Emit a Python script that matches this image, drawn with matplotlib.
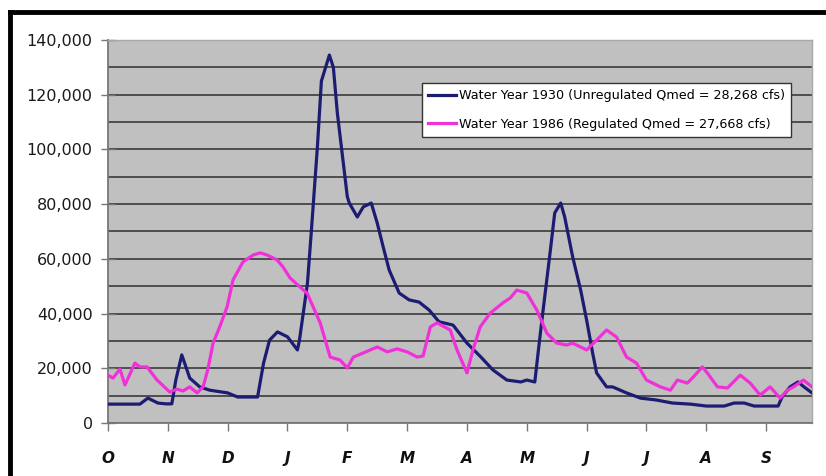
import matplotlib
matplotlib.use("Agg")
import matplotlib.pyplot as plt
from matplotlib.ticker import FuncFormatter, MultipleLocator
from matplotlib.lines import Line2D

# ---- data (day of water year, flow in cfs) ----
months = ["O", "N", "D", "J", "F", "M", "A", "M", "J", "J", "A", "S"]

days_1930 = [0, 16, 20, 25, 29, 32, 34, 37, 41, 46, 51, 60, 65, 75, 78, 81, 85, 90,
             95, 96, 100, 102, 105, 107, 111, 113, 115, 120, 121, 125, 128, 132, 135,
             138, 141, 146, 151, 156, 161, 166, 173, 180, 187, 193, 200, 207, 210, 214,
             216, 218, 222, 224, 227, 229, 233, 237, 240, 243, 245, 250, 253, 260, 267,
             275, 283, 292, 300, 309, 314, 319, 324, 336, 338, 342, 346, 349, 353]
flow_1930 = [6900, 6900, 9100, 7300, 7000, 7000, 15700, 24900, 16400, 13200, 12000, 11000,
             9500, 9500, 21900, 30300, 33300, 31500, 26700, 30300, 51000, 70500, 101000,
             125000, 134500, 130000, 113300, 82700, 80400, 75300, 79000, 80400, 73100,
             64300, 55900, 47500, 45000, 44200, 41300, 37000, 35800, 29200, 24100, 19400,
             15700, 15000, 15700, 15000, 27800, 40200, 64300, 76800, 80400, 75300, 60700,
             48600, 37600, 25600, 18300, 13200, 13200, 11000, 9100, 8400, 7300, 6900, 6200,
             6200, 7300, 7300, 6200, 6200, 9500, 13200, 15000, 13200, 11000]

days_1986 = [0, 2.5, 6, 8.5, 13.5, 16, 19.6, 24.6, 31, 34.6, 37.6, 41, 44.7, 47.7, 50,
             52.7, 56, 59.7, 62.7, 67.7, 72.8, 76.3, 79.8, 84.8, 87.8, 91.3, 96.3, 99.8,
             102.9, 106.4, 111.4, 116.4, 120, 123, 128, 135, 140, 145, 150, 155, 158,
             161.6, 165, 171.6, 175, 180, 183, 186.6, 191.7, 198, 201.7, 205, 210, 215,
             220, 225, 230, 233, 240, 245, 250, 255, 260, 265, 270, 277, 282, 285.5,
             290.5, 293.5, 298, 300.5, 305.6, 310.6, 317, 322, 327, 332, 337, 340.7,
             343.7, 348.7, 353]
flow_1986 = [17500, 16400, 19700, 13900, 21900, 20500, 20500, 15700, 11300, 12400, 11700,
             13200, 11000, 13200, 19400, 29200, 35100, 42400, 52300, 58900, 61400, 62200,
             61400, 59600, 57000, 53000, 49700, 47500, 42400, 36600, 24100, 23000, 20100,
             24100, 25600, 27800, 26000, 27100, 26000, 24100, 24500, 35100, 36600, 34000,
             26700, 18300, 26700, 35100, 40200, 43900, 45700, 48600, 47500, 41300, 32900,
             29200, 28500, 29200, 26700, 30300, 34000, 31400, 24100, 21900, 15700, 13200,
             12000, 15700, 14600, 16800, 20500, 18300, 13200, 12800, 17500, 14600, 10200,
             13200, 9100, 12000, 13200, 15700, 13200]

label_1930 = "Water Year 1930 (Unregulated Qmed = 28,268 cfs)"
label_1986 = "Water Year 1986 (Regulated Qmed = 27,668 cfs)"

W, H = 826, 476
fig = plt.figure(figsize=(W / 100, H / 100), dpi=100)
fig.patch.set_facecolor("white")

# axes placement in pixels
x0, x1 = 108, 812
y_top, y_bot = 40, 423
ax = fig.add_axes([x0 / W, 1 - y_bot / H, (x1 - x0) / W, (y_bot - y_top) / H])
ax.set_facecolor("#c0c0c0")

ax.plot(days_1930, flow_1930, color="#1c1c72", lw=2.3, label=label_1930, zorder=3)
ax.plot(days_1986, flow_1986, color="#f030d8", lw=2.3, label=label_1986, zorder=3)

ax.set_xlim(0, 353)
ax.set_ylim(0, 140000)
ax.yaxis.set_major_locator(MultipleLocator(20000))
ax.yaxis.set_minor_locator(MultipleLocator(10000))
ax.yaxis.set_major_formatter(FuncFormatter(lambda v, p: f"{int(v):,}"))
ax.grid(True, which="both", axis="y", color="#454545", lw=1.3, zorder=1)
ax.set_axisbelow(True)

ax.set_xticks([i * 30 for i in range(12)])
ax.set_xticklabels(months, fontsize=11, fontweight="bold", fontstyle="italic",
                   family="DejaVu Sans", color="#111111")
ax.tick_params(axis="x", direction="out", length=6, width=1, color="#777777", pad=14)
ax.tick_params(axis="y", which="major", direction="inout", length=10, width=1,
               color="#777777", pad=6, labelsize=11.5, labelcolor="#1a1a1a")
ax.tick_params(axis="y", which="minor", length=0)

for s in ["left", "bottom"]:
    ax.spines[s].set_color("#777777")
    ax.spines[s].set_linewidth(1.3)
for s in ["top", "right"]:
    ax.spines[s].set_color("#a8a8a8")
    ax.spines[s].set_linewidth(1.0)

leg = ax.legend(loc="upper right", bbox_to_anchor=((791 - x0) / (x1 - x0), (y_bot - 83) / (y_bot - y_top)),
                fontsize=9.2, frameon=True, fancybox=False, framealpha=1,
                edgecolor="#333333", handlelength=2.2, handletextpad=0.2,
                borderpad=0.5, labelspacing=1.2, borderaxespad=0)
leg.get_frame().set_linewidth(1.0)

# black frame on the left and top of the picture
fig.add_artist(Line2D([10 / W, 10 / W], [0, 1 - 12 / H], transform=fig.transFigure,
                      color="black", lw=3.5, solid_capstyle="projecting"))
fig.add_artist(Line2D([10 / W, 1], [1 - 12 / H, 1 - 12 / H], transform=fig.transFigure,
                      color="black", lw=3.5, solid_capstyle="projecting"))

fig.savefig("out.png", dpi=100, facecolor="white")
